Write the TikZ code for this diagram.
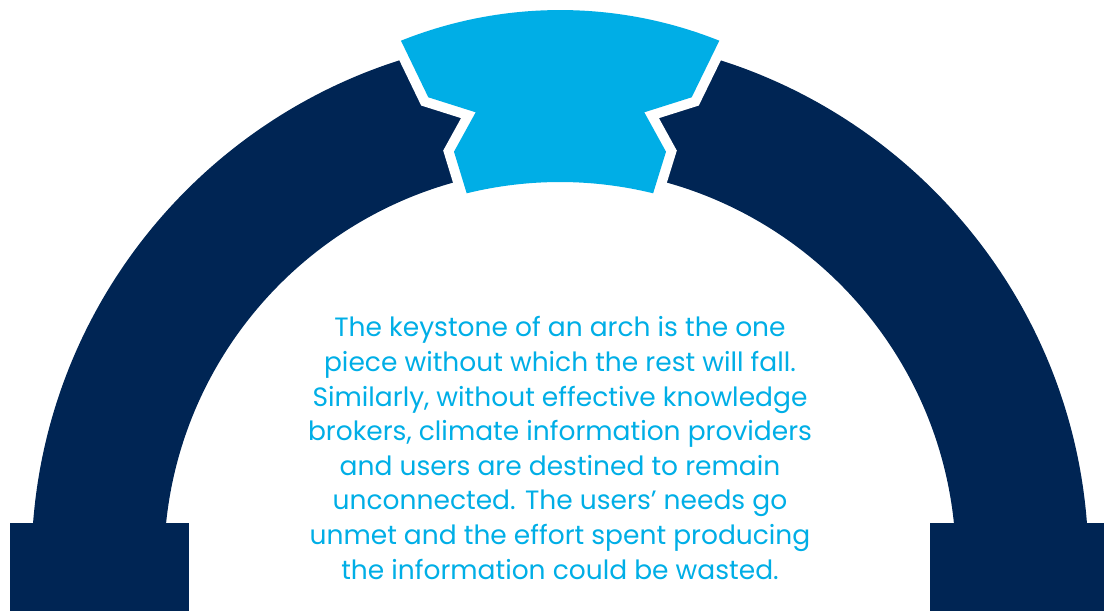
\documentclass[tikz,border=0pt]{standalone}
\usepackage{fontspec}
\setmainfont{Poppins}
\definecolor{archnavy}{RGB}{0,37,84}
\definecolor{keyblue}{RGB}{0,174,230}
% outline of the keystone
\newcommand\keystonepath{(719.3,570.3) arc[start angle=68.2,end angle=111.8,radius=428.6]
  -- (428.3,513.7) -- (475.7,498.7) -- (454,459.3) -- (466.7,417.7)
  arc[start angle=103.8,end angle=76.2,radius=390.8]
  -- (666,459.3) -- (644.3,498.7) -- (691.7,513.7) -- cycle}
\begin{document}
\begin{tikzpicture}[x=1pt,y=1pt,
    stone/.style={fill=archnavy},
    gap/.style={draw=white,line width=20pt,line join=miter}]
  \useasboundingbox (0,0) rectangle (1104,611);
  % arch ring and feet
  \fill[stone] (31.5,47) arc[start angle=180,end angle=0,radius=528.5]
    -- (956,47) arc[start angle=0,end angle=180,radius=396] -- cycle;
  \fill[stone] (10,0) rectangle (189,88);
  \fill[stone] (930,0) rectangle (1104,88);
  % keystone
  \draw[gap] \keystonepath;
  \fill[keyblue] \keystonepath;
  \node[align=center,text=keyblue,inner sep=0pt,
    font={\fontsize{26.5}{34.6}\selectfont}] (msg) at (560,163)
    {The keystone of an arch is the one\\
     piece without which the rest will fall.\\
     Similarly, without effective knowledge\\
     brokers, climate information providers\\
     and users are destined to remain\\
     unconnected. The users' needs go\\
     unmet and the effort spent producing\\
     the information could be wasted.};
\end{tikzpicture}
\end{document}
